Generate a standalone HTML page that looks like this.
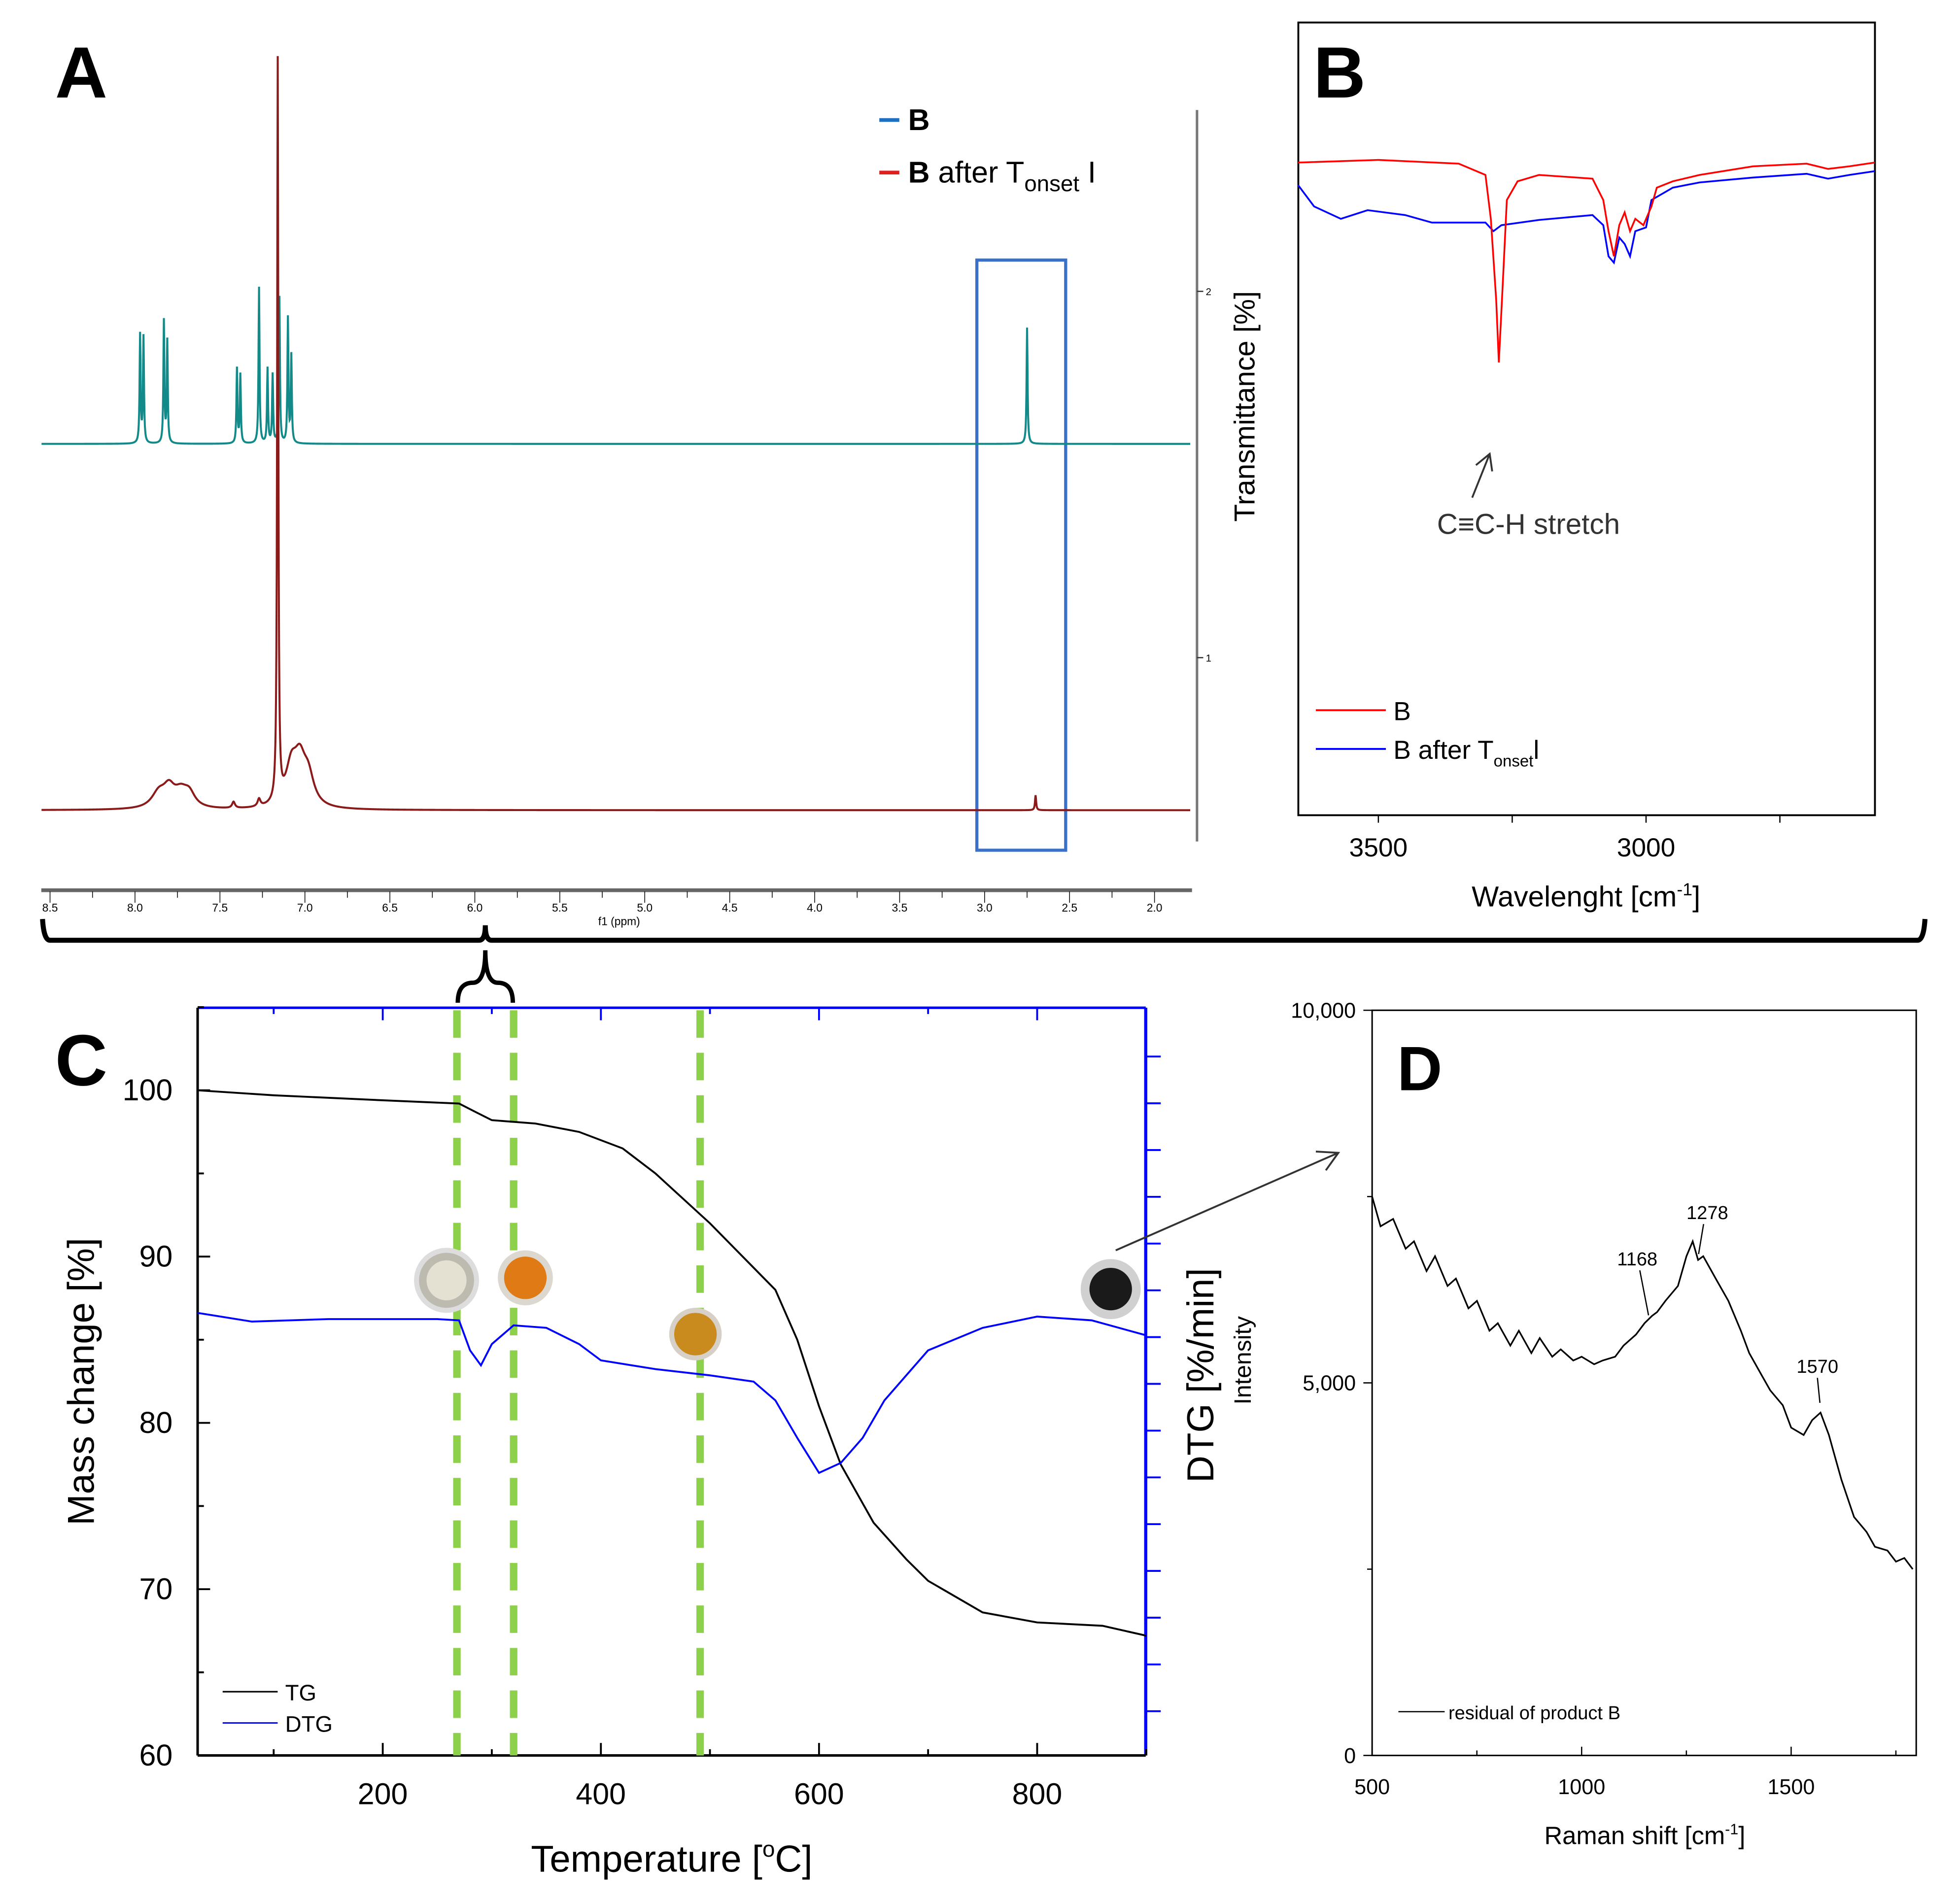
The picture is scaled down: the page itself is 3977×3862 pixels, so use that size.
<!DOCTYPE html>
<html><head><meta charset="utf-8"><style>
html,body{margin:0;padding:0;background:#fff}
svg{display:block}
text{font-family:"Liberation Sans",sans-serif}
</style></head><body>
<svg id="fig" width="3977" height="3862" viewBox="0 0 1567 1522" preserveAspectRatio="none" xmlns="http://www.w3.org/2000/svg">
<rect x="0" y="0" width="1567" height="1522" fill="#fff"/>
<text x="44" y="78" font-size="58" font-weight="bold">A</text>
<g>
<line x1="703" y1="96" x2="719" y2="96" stroke="#1f6fc0" stroke-width="3"/>
<text x="726" y="104" font-size="24" font-weight="bold">B</text>
<line x1="703" y1="138" x2="719" y2="138" stroke="#e0201e" stroke-width="3"/>
<text x="726" y="146" font-size="24"><tspan font-weight="bold">B</tspan> after T<tspan font-size="18" dy="7">onset</tspan><tspan dy="-7"> I</tspan></text>
</g>
<rect x="781" y="208" width="71" height="472" fill="none" stroke="#3a70c8" stroke-width="2.5"/>
<g id="nmrAxis"></g>
<g>
<line x1="957" y1="88" x2="957" y2="673" stroke="#777" stroke-width="2"/>
<line x1="957" y1="233" x2="962" y2="233" stroke="#333"/><text x="964" y="236" font-size="8">2</text>
<line x1="957" y1="526" x2="962" y2="526" stroke="#333"/><text x="964" y="529" font-size="8">1</text>
</g>
<g id="nmr"></g>
<path d="M34,735 Q35,752 40,752 L383,752 Q388,752 388,740 Q388,752 393,752 L1533,752 Q1538,752 1539,735" fill="none" stroke="#000" stroke-width="4"/>
<path d="M366,802 Q366,786 378,786 Q388,786 388,760 Q388,786 398,786 Q410,786 410,802" fill="none" stroke="#000" stroke-width="3.5"/>
<text x="1050" y="78" font-size="58" font-weight="bold">B</text>
<rect x="1038" y="18" width="461" height="634" fill="none" stroke="#000" stroke-width="1.5"/>
<g id="ir"></g>
<text transform="translate(1003,325) rotate(-90)" font-size="23" text-anchor="middle">Transmittance [%]</text>
<text x="1268" y="725" font-size="23" text-anchor="middle">Wavelenght [cm<tspan font-size="14" dy="-9">-1</tspan><tspan dy="9">]</tspan></text>
<line x1="1177" y1="398" x2="1191" y2="363" stroke="#333" stroke-width="1.5"/>
<path d="M1180,372 L1191,363 L1193,377" fill="none" stroke="#333" stroke-width="1.5"/>
<text x="1222" y="427" font-size="23" fill="#333" text-anchor="middle">C≡C-H stretch</text>
<g>
<line x1="1052" y1="568" x2="1108" y2="568" stroke="#ff0000" stroke-width="1.5"/>
<text x="1114" y="576" font-size="21">B</text>
<line x1="1052" y1="599" x2="1108" y2="599" stroke="#0000ff" stroke-width="1.5"/>
<text x="1114" y="607" font-size="21">B after T<tspan font-size="13" dy="6">onset</tspan><tspan dy="-6">l</tspan></text>
</g>
<text x="44" y="868" font-size="58" font-weight="bold">C</text>
<g id="tg"></g>
<text transform="translate(75,1105) rotate(-90)" font-size="30" text-anchor="middle">Mass change [%]</text>
<text x="537" y="1497" font-size="30" text-anchor="middle">Temperature [<tspan font-size="18" dy="-12">o</tspan><tspan dy="12">C]</tspan></text>
<text transform="translate(970,1100) rotate(-90)" font-size="30" text-anchor="middle">DTG [%/min]</text>
<g>
<line x1="178" y1="1353" x2="222" y2="1353" stroke="#000" stroke-width="1.2"/>
<text x="228" y="1360" font-size="18">TG</text>
<line x1="178" y1="1378" x2="222" y2="1378" stroke="#0000ff" stroke-width="1.2"/>
<text x="228" y="1385" font-size="18">DTG</text>
</g>
<g>
<circle cx="357" cy="1024" r="24" fill="#bdbab0" stroke="#ddd" stroke-width="4"/><circle cx="357" cy="1024" r="16" fill="#e4e0d2"/>
<circle cx="420" cy="1022" r="22" fill="#dcd8d0"/><circle cx="420" cy="1022" r="17" fill="#e07a14"/>
<circle cx="556" cy="1067" r="21" fill="#d6d0c6"/><circle cx="556" cy="1067" r="17" fill="#c98a1e"/>
<circle cx="888" cy="1031" r="24" fill="#d0d0d0"/><circle cx="888" cy="1031" r="17" fill="#1a1a1a"/>
</g>
<line x1="892" y1="1000" x2="1070" y2="922" stroke="#333" stroke-width="1.5"/>
<path d="M1052,921 L1070,922 L1060,936" fill="none" stroke="#333" stroke-width="1.5"/>
<text x="1117" y="872" font-size="50" font-weight="bold">D</text>
<rect x="1097" y="808" width="435" height="596" fill="none" stroke="#000" stroke-width="1.2"/>
<g id="raman"></g>
<text transform="translate(1000,1088) rotate(-90)" font-size="19" text-anchor="middle">Intensity</text>
<text x="1315" y="1475" font-size="20" text-anchor="middle">Raman shift [cm<tspan font-size="12" dy="-8">-1</tspan><tspan dy="8">]</tspan></text>
<g>
<line x1="1118" y1="1369" x2="1155" y2="1369" stroke="#000"/>
<text x="1158" y="1375" font-size="15">residual of product B</text>
</g>
</svg>
<script>
const NS='http://www.w3.org/2000/svg';
function mk(parent,tag,attrs,txt){const e=document.createElementNS(NS,tag);for(const k in attrs)e.setAttribute(k,attrs[k]);if(txt!==undefined)e.textContent=txt;parent.appendChild(e);return e;}

const nmrTicks=[8.5,8.0,7.5,7.0,6.5,6.0,5.5,5.0,4.5,4.0,3.5,3.0,2.5,2.0];
const tealShift=[7.97,7.95,7.83,7.81,7.40,7.38,7.27,7.22,7.19,7.15,7.10,7.08,2.75];
const tealHeight=[87,85,98,82,60,55,125,60,55,117,100,70,93];
const redShift=[7.16,7.86,7.80,7.73,7.68,7.08,7.03,6.98,7.42,7.27,2.70];
const redHeight=[593,12,14,12,10,30,32,22,5,6,12];
const redWidth=[0.004,0.05,0.04,0.05,0.04,0.04,0.04,0.04,0.01,0.01,0.004];
const nx=p=>40+(8.5-p)*135.85;
{
 const ax=document.getElementById('nmrAxis');
 mk(ax,'line',{x1:33,y1:712,x2:953,y2:712,stroke:'#666','stroke-width':3});
 for(let p=8.5;p>=1.99;p-=0.25){const x=nx(p);mk(ax,'line',{x1:x,y1:713,x2:x,y2:Math.abs(p*2-Math.round(p*2))<0.01?722:718,stroke:'#000','stroke-width':0.6});}
 nmrTicks.forEach(t=>{const e=mk(ax,'text',{x:nx(t),y:729,'font-size':9,'text-anchor':'middle'},t.toFixed(1));});
 mk(ax,'text',{x:495,y:740,'font-size':9,'text-anchor':'middle'},'f1 (ppm)');
 const g=document.getElementById('nmr');
 function trace(base,sh,h,w,col,name){let d='';for(let p=8.55;p>=1.79;p-=0.002){let y=base;for(let i=0;i<sh.length;i++){const ww=w?w[i]:0.0035;const u=(p-sh[i])/ww;y-=h[i]/(1+u*u);}const x=nx(p);if(x<33||x>953)continue;d+=(d?'L':'M')+x.toFixed(2)+','+y.toFixed(2);}
  const e=mk(g,'path',{d:d,fill:'none',stroke:col,'stroke-width':1.6});}
 trace(355,tealShift,tealHeight,null,'#138a8a','nmr-trace-b');
 trace(648,redShift,redHeight,redWidth,'#8b1a1a','nmr-trace-b-after-tonset');
}

const irTicks=[3500,3000];
const irRedWn=[3650,3500,3350,3300,3290,3280,3275,3268,3260,3240,3200,3100,3080,3070,3060,3050,3040,3030,3020,3005,2990,2980,2950,2900,2800,2700,2660,2620,2573];
const irRedT=[90,90.7,89.7,86.7,75,53.3,36.7,56.7,80,85,86.7,85.7,80,71.7,65,73.3,76.7,71.7,75,73.3,78.3,83.3,85,86.7,89,89.7,88.3,89,90];
const irBlueWn=[3650,3620,3570,3520,3450,3400,3300,3285,3270,3200,3100,3080,3070,3060,3050,3040,3030,3020,3000,2990,2950,2900,2800,2700,2660,2620,2573];
const irBlueT=[84,78.3,75,77.3,76,74,74,71.7,73.3,74.7,76,73.3,65,63.3,70,68.3,65,71.7,72.7,80,83.3,84.7,86,87,85.7,86.7,87.7];
{
 const g=document.getElementById('ir');
 const xs=w=>1102+(3500-w)*0.428, ys=t=>100+(100-t)*3;
 for(let w=3500;w>=2750;w-=250){mk(g,'line',{x1:xs(w),y1:652,x2:xs(w),y2:658,stroke:'#000'});}
 irTicks.forEach(t=>{const e=mk(g,'text',{x:xs(t),y:685,'font-size':21,'text-anchor':'middle'},t);});
 const ln=(wn,tv,col,name)=>{const e=mk(g,'polyline',{points:wn.map((w,i)=>xs(w).toFixed(1)+','+ys(tv[i]).toFixed(1)).join(' '),fill:'none',stroke:col,'stroke-width':1.4});};
 ln(irBlueWn,irBlueT,'#0000ff','ir-line-b-after-tonset');
 ln(irRedWn,irRedT,'#ff0000','ir-line-b');
}

const tgXTicks=[200,400,600,800];
const tgYTicks=[60,70,80,90,100];
const tgTemp=[30,100,200,270,285,300,340,380,420,450,500,560,580,600,620,650,680,700,750,800,860,900];
const tgMass=[100,99.7,99.4,99.2,98.7,98.2,98,97.5,96.5,95,92,88,85,81,77.5,74,71.8,70.5,68.6,68,67.8,67.2];
const dtgTemp=[30,80,150,250,270,280,290,300,320,350,380,400,450,500,540,560,580,600,620,640,660,700,750,800,850,900];
const dtgVal=[0.1,-0.04,0,0,-0.02,-0.5,-0.74,-0.4,-0.1,-0.14,-0.4,-0.66,-0.8,-0.9,-1.0,-1.3,-1.9,-2.46,-2.3,-1.9,-1.3,-0.5,-0.14,0.04,-0.02,-0.26];
const onsetTemps=[268,320,491];
{
 const g=document.getElementById('tg');
 const xs=t=>306+(t-200)*0.872, ym=m=>872+(100-m)*13.3, yd=v=>1055-v*50;
 mk(g,'line',{x1:158,y1:806,x2:916,y2:806,stroke:'#0000ff','stroke-width':2});
 mk(g,'line',{x1:916,y1:806,x2:916,y2:1404,stroke:'#0000ff','stroke-width':2.5});
 mk(g,'line',{x1:158,y1:806,x2:158,y2:1404,stroke:'#000','stroke-width':2});
 mk(g,'line',{x1:158,y1:1404,x2:916,y2:1404,stroke:'#000','stroke-width':2});
 for(let t=100;t<=900;t+=100){const x=xs(t);mk(g,'line',{x1:x,y1:1404,x2:x,y2:t%200==0?1394:1399,stroke:'#000','stroke-width':1.5});mk(g,'line',{x1:x,y1:806,x2:x,y2:t%200==0?816:811,stroke:'#0000ff','stroke-width':1.5});}
 for(let m=60;m<=105;m+=5){const y=ym(m);mk(g,'line',{x1:158,y1:y,x2:m%10==0?168:163,y2:y,stroke:'#000','stroke-width':1.5});}
 for(let y=845;y<1404;y+=37.4){mk(g,'line',{x1:916,y1:y,x2:928,y2:y,stroke:'#0000ff','stroke-width':1.5});}
 tgXTicks.forEach(t=>{const e=mk(g,'text',{x:xs(t),y:1443,'font-size':24,'text-anchor':'middle'},t);});
 tgYTicks.forEach(m=>{const e=mk(g,'text',{x:138,y:ym(m)+8,'font-size':24,'text-anchor':'end'},m);});
 onsetTemps.forEach(t=>{const e=mk(g,'line',{x1:xs(t),y1:808,x2:xs(t),y2:1404,stroke:'#8dd04a','stroke-width':6,'stroke-dasharray':'22,12'});});
 const a=mk(g,'polyline',{points:tgTemp.map((t,i)=>xs(t).toFixed(1)+','+ym(tgMass[i]).toFixed(1)).join(' '),fill:'none',stroke:'#000','stroke-width':1.5});
 
 const b=mk(g,'polyline',{points:dtgTemp.map((t,i)=>xs(t).toFixed(1)+','+yd(dtgVal[i]).toFixed(1)).join(' '),fill:'none',stroke:'#0000ff','stroke-width':1.5});
 
}

const ramanXTicks=[500,1000,1500];
const ramanYTicks=[0,5000,10000];
const ramanYLabels=['0','5,000','10,000'];
const ramanShift=[500,520,550,580,600,630,650,680,700,730,750,780,800,830,850,880,900,930,950,980,1000,1030,1050,1080,1100,1130,1150,1168,1180,1200,1230,1250,1265,1278,1290,1300,1320,1350,1380,1400,1430,1450,1480,1500,1530,1550,1570,1590,1600,1620,1650,1680,1700,1730,1750,1770,1790];
const ramanInt=[7500,7100,7200,6800,6900,6500,6700,6300,6400,6000,6100,5700,5800,5500,5700,5400,5600,5350,5450,5300,5350,5250,5300,5350,5500,5650,5800,5900,5950,6100,6300,6700,6900,6650,6700,6600,6400,6100,5700,5400,5100,4900,4700,4400,4300,4500,4600,4300,4100,3700,3200,3000,2800,2750,2600,2650,2500];
{
 const g=document.getElementById('raman');
 const xs=w=>1097+(w-500)*0.335, ys=v=>1404-v*0.0596;
 for(let w=500;w<=1750;w+=250){mk(g,'line',{x1:xs(w),y1:1404,x2:xs(w),y2:w%500==0?1397:1400,stroke:'#000'});}
 for(let v=0;v<=10000;v+=2500){mk(g,'line',{x1:1097,y1:ys(v),x2:v%5000==0?1090:1093,y2:ys(v),stroke:'#000'});}
 ramanXTicks.forEach(t=>{const e=mk(g,'text',{x:xs(t),y:1435,'font-size':17,'text-anchor':'middle'},t);});
 ramanYTicks.forEach((v,i)=>{const e=mk(g,'text',{x:1084,y:ys(v)+6,'font-size':17,'text-anchor':'end'},ramanYLabels[i]);});
 let pts=[];
 for(let i=0;i<ramanShift.length;i++)pts.push(xs(ramanShift[i]).toFixed(1)+','+ys(ramanInt[i]).toFixed(1));
 const l=mk(g,'polyline',{points:pts.join(' '),fill:'none',stroke:'#000','stroke-width':1.3});
 
 [[1168,'1168',1309,1012,1318,1052],[1278,'1278',1365,975,1358,1003],[1570,'1570',1453,1098,1455,1122]].forEach(p=>{const e=mk(g,'text',{x:p[2],y:p[3],'font-size':15,'text-anchor':'middle'},p[1]);mk(g,'line',{x1:p[2]+(p[0]==1168?2:(p[0]==1278?-3:0)),y1:p[3]+4,x2:p[4],y2:p[5],stroke:'#000'});});
}
</script>
</body></html>
